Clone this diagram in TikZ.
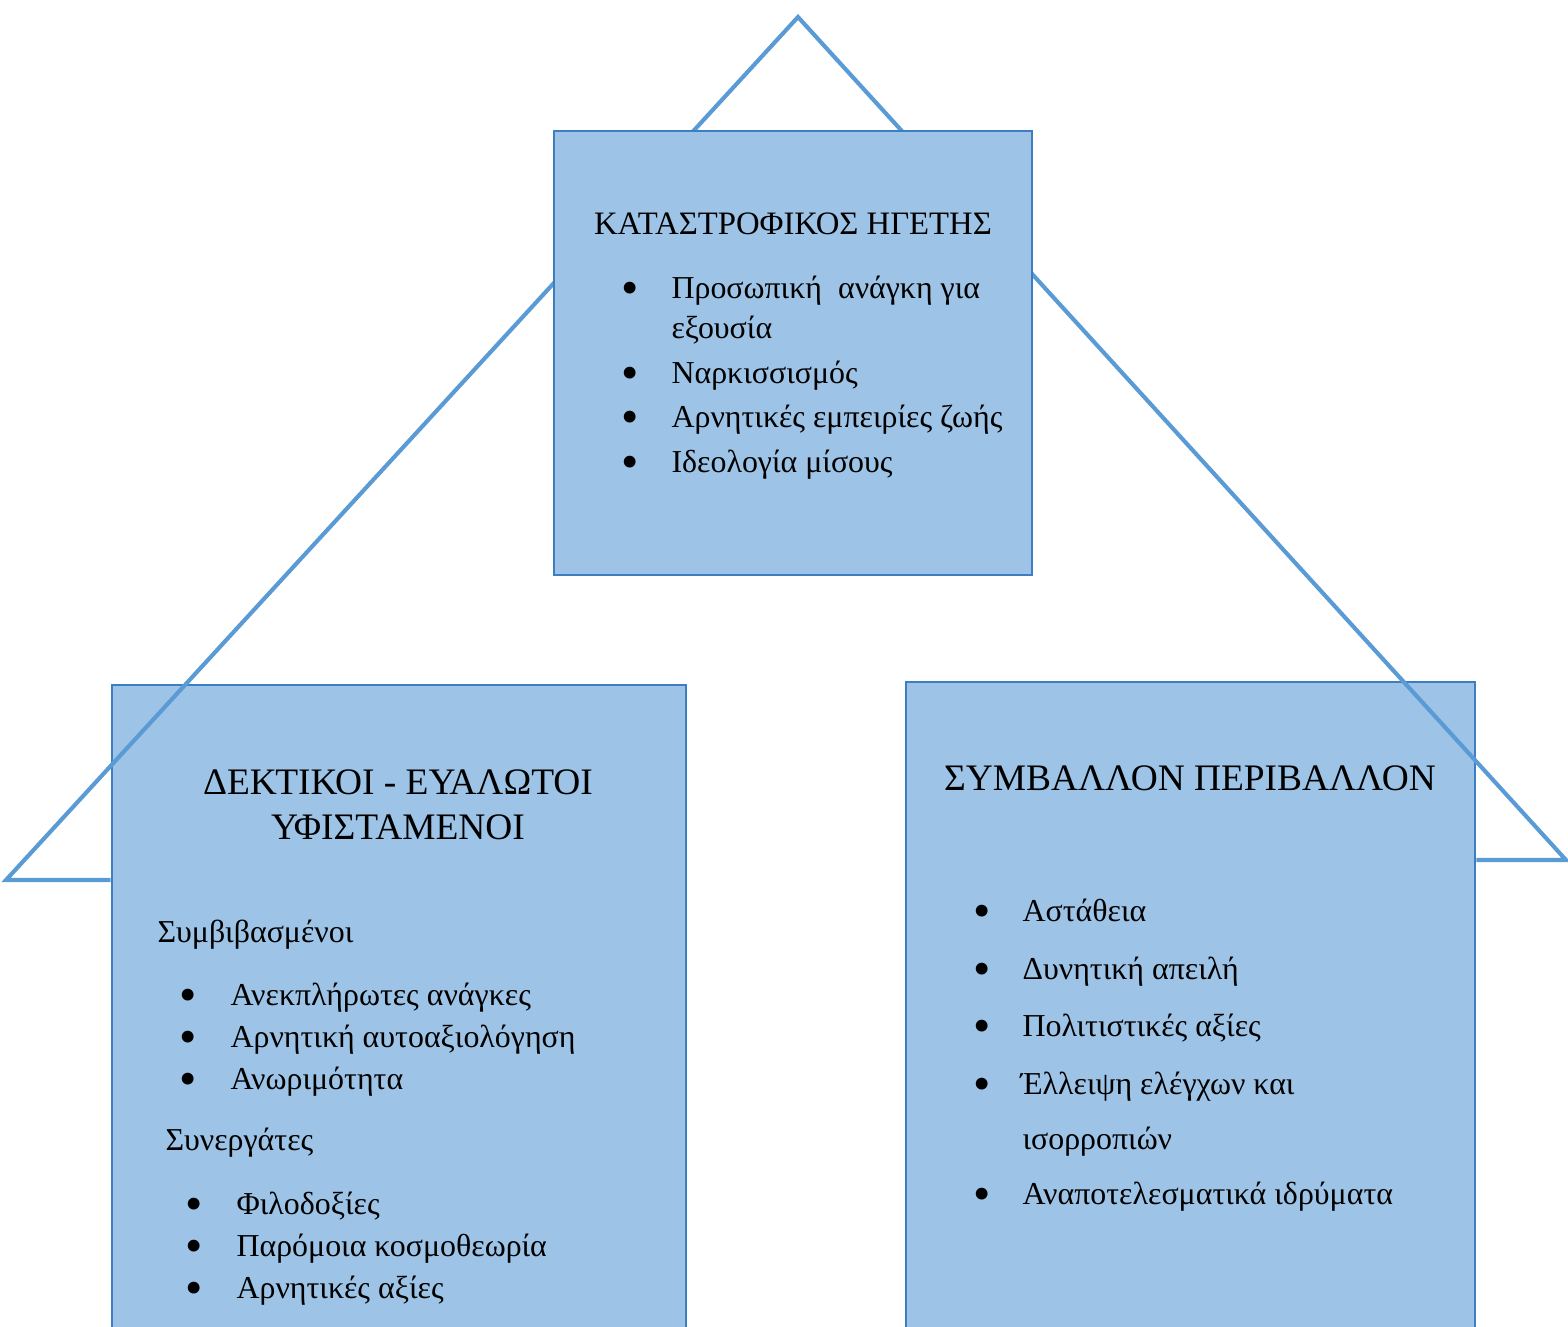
\documentclass[tikz,border=0pt]{standalone}
\usepackage{fontspec}
\setmainfont{Liberation Serif}
\usetikzlibrary{fit}
\definecolor{boxfill}{HTML}{9DC3E6}
\definecolor{boxedge}{HTML}{3D7DC2}
\definecolor{roofline}{HTML}{5B9BD5}
\begin{document}
\begin{tikzpicture}[x=0.36364pt,y=-0.36364pt,
  panel/.style={draw=boxedge, fill=boxfill, line width=1pt, inner sep=0pt},
  item/.style={anchor=base west, inner sep=0pt, font=\fontsize{11.6}{14}\selectfont},
  dot/.style={anchor=base, inner sep=0pt, yshift=-2.2pt, text height=0.4em, text depth=0pt, font=\fontsize{18}{20}\selectfont},
  heading/.style={anchor=base, inner sep=0pt, font=\fontsize{13.6}{16}\selectfont},
  topheading/.style={anchor=base, inner sep=0pt, font=\fontsize{11.9}{14}\selectfont},
  roof/.style={draw=roofline, line width=1.5pt}]
\useasboundingbox (0,0) rectangle (1568,1326);
\clip (0,0) rectangle (1568,1326);

% lower panels
\node[panel, fit={(112,685) (686,1400)}] (followers) {};
\node[panel, fit={(906,682) (1475,1400)}] (environment) {};

% left panel text
\node[heading] (fhead1) at (398,794) {ΔΕΚΤΙΚΟΙ - ΕΥΑΛΩΤΟΙ};
\node[heading] (fhead2) at (398,839) {ΥΦΙΣΤΑΜΕΝΟΙ};
\node[item] (comp) at (157,942) {Συμβιβασμένοι};
\node[dot] (cb1) at (188,1005) {•};
\node[item] (c1) at (230,1005) {Ανεκπλήρωτες ανάγκες};
\node[dot] (cb2) at (188,1047) {•};
\node[item] (c2) at (230,1047) {Αρνητική αυτοαξιολόγηση};
\node[dot] (cb3) at (188,1089) {•};
\node[item] (c3) at (230,1089) {Ανωριμότητα};
\node[item] (coll) at (165,1150) {Συνεργάτες};
\node[dot] (kb1) at (194,1214) {•};
\node[item] (k1) at (236,1214) {Φιλοδοξίες};
\node[dot] (kb2) at (194,1256) {•};
\node[item] (k2) at (236,1256) {Παρόμοια κοσμοθεωρία};
\node[dot] (kb3) at (194,1298) {•};
\node[item] (k3) at (236,1298) {Αρνητικές αξίες};

% right panel text
\node[heading] (ehead) at (1190,790) {ΣΥΜΒΑΛΛΟΝ ΠΕΡΙΒΑΛΛΟΝ};
\node[dot] (eb1) at (982,921) {•};
\node[item] (e1) at (1022,921) {Αστάθεια};
\node[dot] (eb2) at (982,979) {•};
\node[item] (e2) at (1022,979) {Δυνητική απειλή};
\node[dot] (eb3) at (982,1036) {•};
\node[item] (e3) at (1022,1036) {Πολιτιστικές αξίες};
\node[dot] (eb4) at (982,1094) {•};
\node[item] (e4) at (1020,1094) {Έλλειψη ελέγχων και};
\node[item] (e4b) at (1022,1149) {ισορροπιών};
\node[dot] (eb5) at (982,1204) {•};
\node[item] (e5) at (1022,1204) {Αναποτελεσματικά ιδρύματα};

% roof outline
\coordinate (apex) at (798,17);
\coordinate (lcorner) at (6,880);
\coordinate (rcorner) at (1566,860);
\draw[roof] (lcorner -| followers.west) -- (lcorner) -- (apex) -- (rcorner) -- (rcorner -| environment.east);

% top panel
\node[panel, fit={(554,131) (1032,575)}] (leader) {};
\node[topheading] (lhead) at (793,234) {ΚΑΤΑΣΤΡΟΦΙΚΟΣ ΗΓΕΤΗΣ};
\node[dot] (lb1) at (630,298) {•};
\node[item] (l1) at (671,298) {Προσωπική\ \ ανάγκη για};
\node[item] (l1b) at (671,338) {εξουσία};
\node[dot] (lb2) at (630,383) {•};
\node[item] (l2) at (671,383) {Ναρκισσισμός};
\node[dot] (lb3) at (630,427) {•};
\node[item] (l3) at (671,427) {Αρνητικές εμπειρίες ζωής};
\node[dot] (lb4) at (630,472) {•};
\node[item] (l4) at (671,472) {Ιδεολογία μίσους};
\end{tikzpicture}
\end{document}
